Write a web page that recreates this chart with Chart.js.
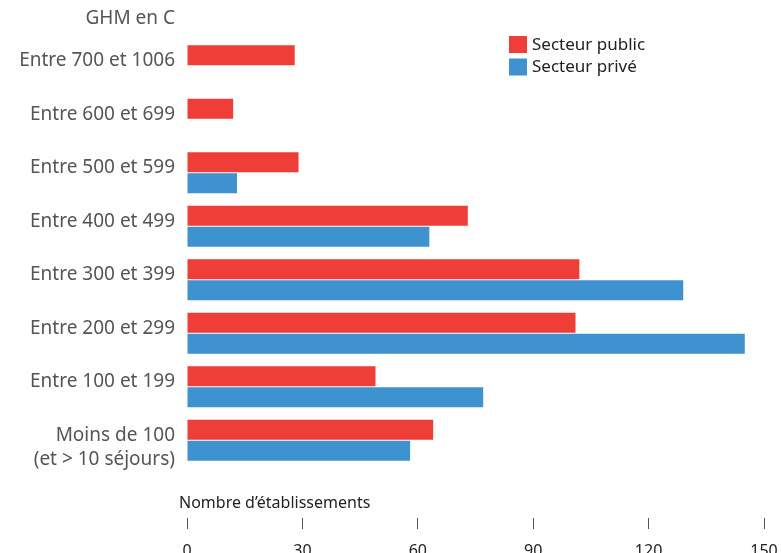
<!DOCTYPE html>
<html>
<head>
<meta charset="utf-8">
<script src="https://cdn.jsdelivr.net/npm/chart.js@4/dist/chart.umd.min.js"></script>
<style>
  body { margin: 0; background: #fff; }
  #wrap { width: 781px; height: 553px; position: relative; }
</style>
</head>
<body>
<div id="wrap"><canvas id="myChart"></canvas></div>
<script>
const categories = [
  'Entre 700 et 1006',
  'Entre 600 et 699',
  'Entre 500 et 599',
  'Entre 400 et 499',
  'Entre 300 et 399',
  'Entre 200 et 299',
  'Entre 100 et 199',
  ['Moins de 100', '(et > 10 séjours)'],
];
const publicValues = [28, 12, 29, 73, 102, 101, 49, 64];
const priveValues  = [0, 0, 13, 63, 129, 145, 77, 58];
const seriesNames = ['Secteur public', 'Secteur privé'];
const xTicks = [0, 30, 60, 90, 120, 150];

const FONT = '"Noto Sans", sans-serif';

// titre du haut + titre de l'axe x + légende maison
const extras = {
  id: 'extras',
  afterDraw(chart) {
    const ctx = chart.ctx;
    const x = chart.scales.x;
    ctx.save();
    ctx.textBaseline = 'middle';

    ctx.font = '19px ' + FONT;
    ctx.fillStyle = '#555';
    ctx.textAlign = 'right';
    ctx.fillText('GHM en C', 175, 19);

    ctx.font = '16px ' + FONT;
    ctx.fillStyle = '#222';
    ctx.textAlign = 'left';
    ctx.fillText('Nombre d’établissements', x.left - 8, 503);

    ctx.font = '17px ' + FONT;
    chart.data.datasets.forEach((ds, i) => {
      const y = 36 + i * 22.5;
      ctx.fillStyle = ds.backgroundColor;
      ctx.fillRect(509, y, 18, 17);
      ctx.fillStyle = '#222';
      ctx.fillText(ds.label, 532, y + 9);
    });
    ctx.restore();
  }
};

const ctx = document.getElementById('myChart').getContext('2d');
const chart = new Chart(ctx, {
  type: 'bar',
  data: {
    labels: categories,
    datasets: [
      { label: seriesNames[0], data: publicValues, backgroundColor: '#ef3e37' },
      { label: seriesNames[1], data: priveValues, backgroundColor: '#3e92d0' },
    ]
  },
  options: {
    indexAxis: 'y',
    responsive: true,
    maintainAspectRatio: false,
    animation: false,
    categoryPercentage: 0.785,
    barPercentage: 0.95,
    layout: { padding: { top: 39, right: 17, left: 0, bottom: 0 } },
    plugins: {
      legend: { display: false },
      tooltip: { enabled: false },
    },
    scales: {
      x: {
        min: 0,
        max: 150,
        afterFit: s => { s.height = 86; s.paddingLeft = 0; s.paddingRight = 0; },
        afterBuildTicks: s => { s.ticks = xTicks.map(v => ({ value: v })); },
        border: { display: false },
        grid: {
          drawOnChartArea: false,
          drawTicks: true,
          tickLength: 62,
          tickColor: '#555',
          tickBorderDash: [0, 51, 11, 1000],
        },
        ticks: {
          padding: 13,
          color: '#222',
          font: { family: FONT, size: 16 },
        },
      },
      y: {
        afterFit: s => { s.width = 187; },
        border: { display: false },
        grid: { display: false, drawTicks: false },
        ticks: {
          padding: 12,
          labelOffset: 7,
          color: '#555',
          font: { family: FONT, size: 19, lineHeight: 1.25 },
          // première ligne toujours au même endroit
          callback: function (v) {
            const l = this.getLabelForValue(v);
            return Array.isArray(l) ? l : [l, ''];
          },
        },
      },
    },
  },
  plugins: [extras],
});
</script>
</body>
</html>
